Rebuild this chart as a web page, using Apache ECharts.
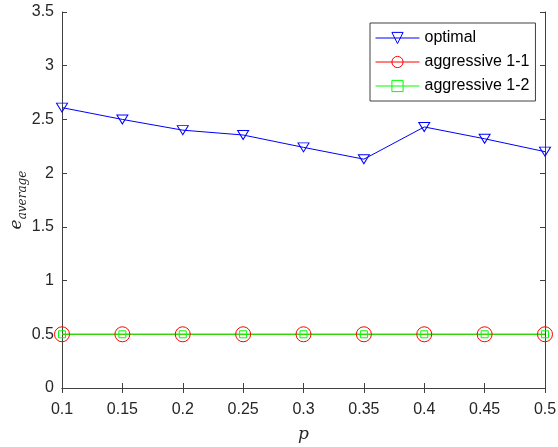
<!DOCTYPE html>
<html>
<head>
<meta charset="utf-8">
<script src="https://cdn.jsdelivr.net/npm/echarts@6/dist/echarts.min.js"></script>
<style>
  html, body { margin: 0; padding: 0; background: #fff; }
  #main { width: 558px; height: 447px; }
</style>
</head>
<body>
<div id="main"></div>
<script>
var pValues = [0.1, 0.15, 0.2, 0.25, 0.3, 0.35, 0.4, 0.45, 0.5];
var optimal = [2.61, 2.50, 2.40, 2.355, 2.24, 2.13, 2.43, 2.32, 2.20];
var aggressive11 = [0.5, 0.5, 0.5, 0.5, 0.5, 0.5, 0.5, 0.5, 0.5];
var aggressive12 = [0.5, 0.5, 0.5, 0.5, 0.5, 0.5, 0.5, 0.5, 0.5];

function pairs(ys) {
    return pValues.map(function (p, i) { return [p, ys[i]]; });
}

var axisCol = '#404040';
var textCol = '#262626';
var font = 'Liberation Sans, Arial, sans-serif';

var myChart = echarts.init(document.getElementById('main'));
var option = {
    animation: false,
    backgroundColor: '#fff',
    grid: { left: 62, right: 13, top: 12, bottom: 59, containLabel: false, outerBoundsMode: 'none' },
    legend: {
        orient: 'vertical',
        left: 370,
        top: 23,
        backgroundColor: '#fff',
        borderColor: axisCol,
        borderWidth: 1,
        padding: [7, 6, 7, 5],
        itemWidth: 44,
        itemHeight: 14,
        itemGap: 8,
        lineStyle: { width: 1 },
        itemStyle: { borderWidth: 1 },
        textStyle: { fontFamily: font, fontSize: 16, color: '#000' },
        data: ['optimal', 'aggressive 1-1', 'aggressive 1-2']
    },
    xAxis: [{
        type: 'value',
        min: 0.1,
        max: 0.5,
        interval: 0.05,
        name: 'p',
        nameLocation: 'middle',
        nameGap: 38,
        nameTextStyle: { fontFamily: 'DejaVu Serif, serif', fontStyle: 'italic', fontSize: 17, color: textCol },
        axisLine: { lineStyle: { color: axisCol, width: 1 } },
        axisTick: { inside: true, length: 5, lineStyle: { color: axisCol } },
        axisLabel: {
            fontFamily: font, fontSize: 16, color: textCol, margin: 14,
            formatter: function (v) { return String(Math.round(v * 100) / 100); }
        },
        splitLine: { show: false }
    }, {
        type: 'value',
        position: 'top',
        min: 0.1,
        max: 0.5,
        interval: 0.05,
        axisLine: { show: true, lineStyle: { color: axisCol, width: 1 } },
        axisTick: { inside: true, length: 5, lineStyle: { color: axisCol } },
        axisLabel: { show: false },
        splitLine: { show: false }
    }],
    yAxis: [{
        type: 'value',
        min: 0,
        max: 3.5,
        interval: 0.5,
        name: '{e|e}{s|average}',
        nameLocation: 'middle',
        nameRotate: 90,
        nameGap: 37,
        nameMoveOverlap: false,
        nameTextStyle: {
            rich: {
                e: { fontFamily: 'DejaVu Serif, serif', fontStyle: 'italic', fontSize: 17, color: textCol, verticalAlign: 'bottom', lineHeight: 20 },
                s: { fontFamily: 'DejaVu Serif, serif', fontStyle: 'italic', fontSize: 12, color: textCol, verticalAlign: 'bottom', lineHeight: 14, padding: [0, 0, -4, 0] }
            }
        },
        axisLine: { show: true, lineStyle: { color: axisCol, width: 1 } },
        axisTick: { show: true, inside: true, length: 5, lineStyle: { color: axisCol } },
        axisLabel: { fontFamily: font, fontSize: 16, color: textCol, margin: 8 },
        splitLine: { show: false }
    }, {
        type: 'value',
        position: 'right',
        min: 0,
        max: 3.5,
        interval: 0.5,
        axisLine: { show: true, lineStyle: { color: axisCol, width: 1 } },
        axisTick: { show: true, inside: true, length: 5, lineStyle: { color: axisCol } },
        axisLabel: { show: false },
        splitLine: { show: false }
    }],
    series: [{
        name: 'optimal',
        type: 'line',
        data: pairs(optimal),
        symbol: 'triangle',
        symbolRotate: 180,
        symbolSize: [11, 9],
        showAllSymbol: true,
        lineStyle: { color: '#0000ff', width: 1 },
        itemStyle: { color: '#0000ff', borderColor: '#0000ff', borderWidth: 1 },
        emphasis: { disabled: true }
    }, {
        name: 'aggressive 1-1',
        type: 'line',
        data: pairs(aggressive11),
        symbol: 'circle',
        symbolSize: 15,
        showAllSymbol: true,
        lineStyle: { color: '#ff0000', width: 1 },
        itemStyle: { color: '#ff0000', borderColor: '#ff0000', borderWidth: 1 },
        emphasis: { disabled: true }
    }, {
        name: 'aggressive 1-2',
        type: 'line',
        data: pairs(aggressive12),
        symbol: 'rect',
        symbolSize: 7,
        showAllSymbol: true,
        lineStyle: { color: '#00ff00', width: 1 },
        itemStyle: { color: '#00ff00', borderColor: '#00ff00', borderWidth: 1 },
        emphasis: { disabled: true }
    }]
};
// hollow markers like MATLAB
option.series.forEach(function (s) { s.itemStyle.color = 'rgba(255,255,255,0)'; });
myChart.setOption(option);
</script>
</body>
</html>
